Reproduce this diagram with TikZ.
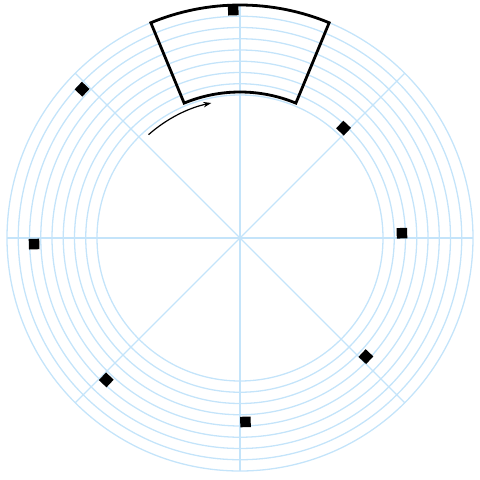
\documentclass[tikz,border=0pt]{standalone}
\usetikzlibrary{arrows.meta,calc}
\definecolor{gridblue}{RGB}{196,228,250}
\tikzset{
  gridline/.style={draw=gridblue, line width=1.3pt},
  sector/.style={draw=black, line width=2.8pt, line join=miter},
  marker/.style={fill=black, draw=none, minimum size=10.5pt, inner sep=0pt, shape=rectangle},
  rotarrow/.style={draw=black, line width=1.2pt, -{Stealth[length=8pt,width=5.5pt]}}
}
\begin{document}
\begin{tikzpicture}[x=1pt,y=1pt]
\useasboundingbox (0,0) rectangle (480,480);
\coordinate (c) at (240,242);
% grid circles
\foreach \r in {143,154.25,165.5,176.75,188,199.25,210.5,221.75,233}
  \draw[gridline] (c) circle (\r);
% radial lines
\foreach \a in {0,45,...,315}
  \draw[gridline] (c) -- ++(\a:233);
% markers
\foreach \a/\r [count=\i] in {90/228,135/217,180/206,225/195,270/184,315/173,0/162,45/151}
  \node[marker, rotate=\a+1.7] (m\i) at ($(c)+(\a+1.7:\r)$) {};
% sector
\draw[sector] ($(c)+(67.5:146)$) arc[start angle=67.5, end angle=112.5, radius=146]
  -- ($(c)+(112.5:233)$) arc[start angle=112.5, end angle=67.5, radius=233] -- cycle;
% rotation arrow
\coordinate (as) at ($(c)+(131.5:138)$);
\draw[rotarrow] (as) arc[start angle=131.5, end angle=102, radius=138];
\end{tikzpicture}
\end{document}
